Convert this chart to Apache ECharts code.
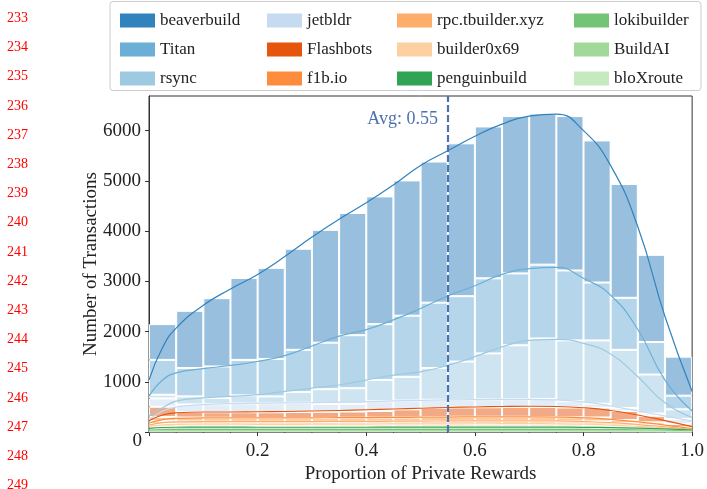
<!DOCTYPE html>
<html>
<head>
<meta charset="utf-8">
<script src="https://cdn.jsdelivr.net/npm/echarts@6/dist/echarts.min.js"></script>
<style>
  html, body { margin: 0; padding: 0; background: #fff; }
  #main { width: 707px; height: 489px; }
</style>
</head>
<body>
<div id="main"></div>
<script>
// bin centres of the 20 histogram bins (width 0.05)
const binCenters = [0.025, 0.075, 0.125, 0.175, 0.225, 0.275, 0.325, 0.375, 0.425, 0.475,
  0.525, 0.575, 0.625, 0.675, 0.725, 0.775, 0.825, 0.875, 0.925, 0.975]

const builders = ['beaverbuild', 'Titan', 'rsync', 'jetbldr', 'Flashbots', 'f1b.io',
  'rpc.tbuilder.xyz', 'builder0x69', 'penguinbuild', 'lokibuilder', 'BuildAI', 'bloXroute']
const colors = ['#3182bd', '#6baed6', '#9ecae1', '#c6dbef', '#e6550d', '#fd8d3c',
  '#fdae6b', '#fdd0a2', '#31a354', '#74c476', '#a1d99b', '#c7e9c0']

// transactions per bin, per builder
const beaverbuild = [713, 1139, 1359, 1631, 1813, 2013, 2246, 2433, 2543, 2693, 2809, 3043, 3023, 3132, 3010, 3074, 2829, 2266, 1735, 777]
const titan = [693, 564, 627, 706, 745, 841, 926, 1055, 1113, 1217, 1301, 1301, 1495, 1431, 1469, 1392, 1152, 1036, 647, 272]
const rsync = [74, 161, 125, 161, 136, 213, 294, 309, 421, 472, 630, 764, 916, 1073, 1204, 1210, 1260, 1156, 777, 191]
const jetbldr = [165, 150, 160, 175, 180, 183, 155, 155, 194, 175, 165, 150, 155, 155, 160, 125, 80, 60, 45, 100]
const flashbots = [205, 110, 110, 115, 115, 122, 125, 125, 131, 162, 180, 185, 190, 195, 200, 195, 194, 181, 130, 65]
const f1bio = [80, 78, 76, 74, 74, 73, 74, 76, 78, 78, 81, 83, 83, 83, 81, 80, 80, 62, 46, 15]
const rpcTbuilder = [60, 59, 57, 56, 56, 55, 56, 57, 59, 59, 61, 63, 63, 63, 61, 60, 61, 47, 34, 11]
const builder0x69 = [60, 58, 57, 55, 55, 55, 55, 57, 58, 59, 61, 62, 62, 62, 61, 60, 60, 46, 34, 11]
const penguinbuild = [45, 42, 42, 42, 42, 42, 42, 42, 42, 42, 43, 43, 43, 43, 43, 42, 40, 38, 35, 27]
const lokibuilder = [25, 23, 23, 23, 23, 23, 23, 23, 23, 23, 24, 24, 24, 24, 24, 23, 22, 21, 20, 15]
const buildAI = [15, 15, 15, 15, 15, 15, 15, 15, 15, 15, 15, 15, 15, 15, 15, 15, 14, 13, 13, 10]
const bloXroute = [15, 15, 15, 15, 15, 15, 15, 15, 15, 15, 15, 15, 15, 15, 15, 15, 14, 13, 12, 8]

// stacked kde curves at these x positions
const kdeX = [0, 0.025, 0.05, 0.1, 0.15, 0.2, 0.25, 0.3, 0.35, 0.4, 0.45, 0.5, 0.55, 0.6, 0.65, 0.7, 0.75, 0.8, 0.85, 0.9, 0.95, 1.0]
const kdeBeaverbuild = [1036, 1683, 2071, 2524, 2848, 3139, 3495, 3883, 4239, 4563, 4919, 5307, 5599, 5890, 6130, 6291, 6330, 6000, 5305, 4086, 2302, 810]
const kdeTitan = [712, 1036, 1178, 1262, 1327, 1405, 1521, 1715, 1909, 2039, 2233, 2460, 2710, 2913, 3139, 3254, 3280, 3061, 2724, 2043, 1036, 421]
const kdeRsync = [324, 485, 615, 680, 712, 744, 809, 874, 938, 1036, 1133, 1200, 1327, 1502, 1696, 1825, 1845, 1765, 1556, 1103, 583, 291]
const kdeJetbldr = [250, 420, 500, 545, 565, 575, 580, 585, 595, 605, 620, 630, 640, 645, 650, 650, 640, 600, 520, 420, 320, 220]
const kdeFlashbots = [227, 340, 385, 400, 400, 405, 410, 420, 430, 445, 460, 475, 490, 500, 510, 515, 510, 485, 430, 340, 230, 110]
const kdeF1bio = [180, 250, 275, 285, 285, 283, 283, 285, 287, 290, 293, 297, 300, 303, 305, 305, 300, 285, 255, 205, 140, 70]
const kdeRpcTbuilder = [140, 190, 205, 210, 210, 208, 208, 210, 212, 214, 217, 220, 222, 224, 225, 225, 222, 210, 188, 150, 105, 55]
const kdeBuilder0x69 = [115, 145, 155, 157, 157, 155, 155, 157, 158, 160, 162, 164, 165, 166, 167, 167, 165, 157, 140, 115, 85, 45]
const kdePenguinbuild = [75, 92, 97, 98, 98, 97, 97, 97, 97, 97, 98, 98, 98, 99, 99, 99, 98, 95, 88, 78, 65, 40]
const kdeLokibuilder = [40, 52, 55, 56, 56, 55, 55, 55, 55, 55, 56, 56, 56, 56, 56, 56, 55, 53, 50, 45, 38, 25]
const kdeBuildAI = [25, 30, 32, 32, 32, 32, 32, 32, 32, 32, 32, 32, 32, 32, 32, 32, 32, 31, 29, 26, 22, 15]
const kdeBloXroute = [12, 15, 16, 16, 16, 16, 16, 16, 16, 16, 16, 16, 16, 16, 16, 16, 16, 15, 14, 13, 11, 8]

const yTicks = [0, 1000, 2000, 3000, 4000, 5000, 6000]
const xTicks = [0, 0.2, 0.4, 0.6, 0.8, 1.0]
const avgShare = 0.545
const avgText = 'Avg: 0.55'
const lineNos = ['233', '234', '235', '236', '237', '238', '239', '240', '241', '242',
  '243', '244', '245', '246', '247', '248', '249']

const counts = [beaverbuild, titan, rsync, jetbldr, flashbots, f1bio, rpcTbuilder,
  builder0x69, penguinbuild, lokibuilder, buildAI, bloXroute]
const kdes = [kdeBeaverbuild, kdeTitan, kdeRsync, kdeJetbldr, kdeFlashbots, kdeF1bio,
  kdeRpcTbuilder, kdeBuilder0x69, kdePenguinbuild, kdeLokibuilder, kdeBuildAI, kdeBloXroute]

const FONT = 'Liberation Serif'

function withAlpha(hex, a) {
  const n = parseInt(hex.slice(1), 16)
  return 'rgba(' + (n >> 16) + ',' + ((n >> 8) & 255) + ',' + (n & 255) + ',' + a + ')'
}

const chart = echarts.init(document.getElementById('main'), null, { renderer: 'canvas' })

// bars on a hidden category axis (one band per bin), bottom of the stack first
const barSeries = []
for (let i = builders.length - 1; i >= 0; i--) {
  barSeries.push({
    name: builders[i],
    type: 'bar',
    xAxisIndex: 0,
    stack: 'hist',
    barWidth: '100%',
    data: counts[i],
    itemStyle: {
      color: withAlpha(colors[i], 0.5),
      borderColor: '#fff',
      borderWidth: 1,
    },
    emphasis: { disabled: true },
    z: 2,
  })
}

const lineSeries = builders.map((name, i) => ({
  name: name,
  type: 'line',
  xAxisIndex: 1,
  data: kdeX.map((x, j) => [x, kdes[i][j]]),
  smooth: 0.5,
  showSymbol: false,
  lineStyle: { color: colors[i], width: 1.2 },
  emphasis: { disabled: true },
  z: 3,
}))

lineSeries[0].markLine = {
  silent: true,
  symbol: 'none',
  label: { show: false },
  lineStyle: { color: '#4c72b0', type: [7, 3], width: 2.2 },
  data: [{ xAxis: avgShare }],
}

const legendLefts = [115, 262, 392, 569]
const legends = legendLefts.map((left, c) => ({
  orient: 'vertical',
  left: left,
  top: 7,
  icon: 'rect',
  itemWidth: 35,
  itemHeight: 14,
  itemGap: 12,
  selectedMode: false,
  textStyle: { fontFamily: FONT, fontSize: 17, color: '#222' },
  data: builders.slice(c * 3, c * 3 + 3).map((name) => ({
    name: name,
    itemStyle: { color: colors[builders.indexOf(name)], opacity: 1, borderWidth: 0 },
  })),
}))

const option = {
  animation: false,
  backgroundColor: '#fff',
  grid: {
    left: 149,
    right: 12,
    top: 96,
    bottom: 49,
    show: true,
    borderColor: '#333',
    borderWidth: 1,
  },
  legend: legends,
  xAxis: [
    {
      type: 'category',
      data: binCenters,
      show: false,
      boundaryGap: true,
    },
    {
      type: 'value',
      min: xTicks[0],
      max: xTicks[xTicks.length - 1],
      interval: 0.2,
      position: 'bottom',
      name: 'Proportion of Private Rewards',
      nameLocation: 'middle',
      nameGap: 24,
      nameTextStyle: { fontFamily: FONT, fontSize: 19, color: '#222' },
      axisLine: { lineStyle: { color: '#333' } },
      axisTick: { show: true, length: 4, lineStyle: { color: '#333' } },
      splitLine: { show: false },
      axisLabel: {
        fontFamily: FONT,
        fontSize: 19,
        color: '#222',
        margin: 9,
        formatter: (v) => (v === 0 ? '' : v.toFixed(1)),
      },
    },
  ],
  yAxis: {
    type: 'value',
    min: yTicks[0],
    max: 6690,
    interval: 1000,
    name: 'Number of Transactions',
    nameLocation: 'middle',
    nameGap: 48,
    nameMoveOverlap: false,
    nameTextStyle: { fontFamily: FONT, fontSize: 19, color: '#222' },
    axisLine: { show: true, lineStyle: { color: '#333' } },
    axisTick: { show: true, length: 4, lineStyle: { color: '#333' } },
    splitLine: { show: false },
    axisLabel: {
      fontFamily: FONT,
      fontSize: 19,
      color: '#222',
      margin: 8,
      showMaxLabel: false,
      formatter: (v) => (v === 0 ? '' : String(v)),
    },
  },
  series: barSeries.concat(lineSeries),
}

chart.setOption(option)

// texts placed with the chart's own scales
const avgPx = chart.convertToPixel({ xAxisIndex: 1, yAxisIndex: 0 }, [avgShare, 6220])
const zeroPx = chart.convertToPixel({ xAxisIndex: 1, yAxisIndex: 0 }, [0, 0])

const graphics = [
  {
    type: 'rect',
    z: -1,
    shape: { x: 110, y: 1.5, width: 591, height: 89, r: 3 },
    style: { fill: '#fff', stroke: '#cccccc', lineWidth: 1 },
  },
  {
    type: 'text',
    x: avgPx[0] - 7,
    y: avgPx[1],
    style: {
      text: avgText,
      fill: '#4c72b0',
      font: '18px "' + FONT + '"',
      align: 'right',
      verticalAlign: 'middle',
    },
  },
  {
    type: 'text',
    x: zeroPx[0] - 7,
    y: zeroPx[1] + 9,
    style: {
      text: '0',
      fill: '#222',
      font: '19px "' + FONT + '"',
      align: 'right',
      verticalAlign: 'middle',
    },
  },
]
lineNos.forEach((t, i) => {
  graphics.push({
    type: 'text',
    x: 7,
    y: 18.4 + i * 29.2,
    style: { text: t, fill: '#ff0000', font: '14px "' + FONT + '"', verticalAlign: 'middle' },
  })
})

chart.setOption({ graphic: graphics })
</script>
</body>
</html>
